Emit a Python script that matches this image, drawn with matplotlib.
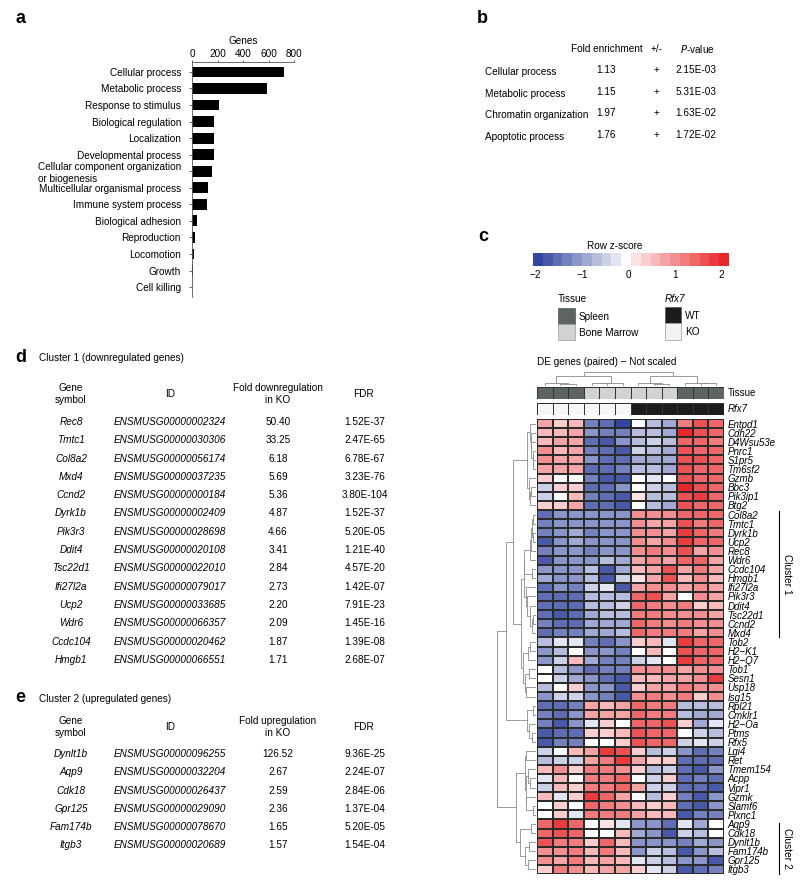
import numpy as np
import matplotlib
matplotlib.use("Agg")
import matplotlib.pyplot as plt
import matplotlib.cm as cm
from matplotlib.colors import ListedColormap, BoundaryNorm, to_rgb
from matplotlib.patches import Rectangle

plt.rcParams['font.family'] = ['Liberation Sans', 'DejaVu Sans']

# ---- data ----
go_terms = ["Cellular process", "Metabolic process", "Response to stimulus",
            "Biological regulation", "Localization", "Developmental process",
            "Cellular component organization\nor biogenesis",
            "Multicellular organismal process", "Immune system process",
            "Biological adhesion", "Reproduction", "Locomotion", "Growth",
            "Cell killing"]
go_counts = [724, 586, 208, 175, 169, 169, 159, 122, 120, 39, 26, 13, 5, 1]

enrich_terms = ["Cellular process", "Metabolic process",
                "Chromatin organization", "Apoptotic process"]
enrich_fold = ["1.13", "1.15", "1.97", "1.76"]
enrich_sign = ["+", "+", "+", "+"]
enrich_p = ["2.15E-03", "5.31E-03", "1.63E-02", "1.72E-02"]

genes = ["Entpd1", "Cdh22", "D4Wsu53e", "Pnrc1", "S1pr5", "Tm6sf2", "Gzmb",
         "Bbc3", "Pik3ip1", "Btg2", "Col8a2", "Tmtc1", "Dyrk1b", "Ucp2",
         "Rec8", "Wdr6", "Ccdc104", "Hmgb1", "Ifi27l2a", "Pik3r3", "Ddit4",
         "Tsc22d1", "Ccnd2", "Mxd4", "Tob2", "H2\u2212K1", "H2\u2212Q7", "Tob1",
         "Sesn1", "Usp18", "Isg15", "Rpl21", "Cmklr1", "H2\u2212Oa", "Ptms",
         "Rfx5", "Lgi4", "Ret", "Tmem154", "Acpp", "Vipr1", "Gzmk", "Slamf6",
         "Plxnc1", "Aqp9", "Cdk18", "Dynlt1b", "Fam174b", "Gpr125", "Itgb3"]

zscores = [
    [0.9, 0.4, 0.6, -1.3, -1.6, -1.9, 0.0, -0.7, -0.8, 1.3, 1.6, 1.5],
    [0.5, 0.6, 0.7, -1.2, -1.3, -1.3, -0.7, -0.7, -0.9, 2.0, 1.6, 1.4],
    [0.5, 0.7, 0.8, -1.5, -1.8, -1.2, -0.7, -0.5, -0.7, 1.5, 1.5, 1.3],
    [1.0, 0.5, 0.7, -1.3, -1.5, -1.7, -0.5, -0.7, -0.8, 1.6, 1.5, 1.4],
    [1.0, 0.9, 0.8, -1.2, -1.5, -1.6, -0.8, -0.8, -0.9, 1.6, 1.6, 1.4],
    [0.9, 0.8, 0.8, -1.5, -1.5, -1.4, -0.6, -0.7, -0.9, 1.7, 1.5, 1.4],
    [0.4, 0.0, 0.0, -1.3, -1.8, -1.7, 0.0, -0.3, 0.0, 1.6, 1.5, 1.4],
    [-0.4, 0.3, 0.3, -1.5, -1.6, -1.2, 0.0, -0.4, -0.6, 2.0, 1.6, 1.5],
    [-0.4, 0.0, 0.5, -1.3, -1.5, -1.7, 0.2, -0.6, -0.6, 1.6, 1.9, 1.5],
    [0.3, 0.3, 0.7, -1.6, -1.5, -1.7, 0.0, -0.6, -0.8, 1.6, 1.5, 1.4],
    [-1.6, -1.2, -1.1, -1.2, -1.1, -1.1, 1.0, 1.1, 1.0, 1.5, 1.4, 1.4],
    [-1.3, -1.2, -1.1, -1.2, -1.2, -1.1, 1.0, 0.7, 0.9, 1.6, 1.2, 1.4],
    [-1.4, -1.0, -0.8, -1.3, -1.1, -1.1, 1.1, 1.0, 0.8, 1.8, 1.5, 1.2],
    [-1.7, -1.0, -0.8, -1.2, -1.1, -1.0, 1.1, 0.8, 1.0, 1.9, 1.5, 1.4],
    [-1.4, -1.2, -1.2, -1.3, -1.1, -1.0, 1.0, 1.2, 1.0, 1.6, 0.9, 1.1],
    [-1.8, -1.1, -1.2, -1.1, -0.6, -0.8, 0.9, 1.1, 0.8, 1.4, 1.4, 0.8],
    [-1.0, -1.1, -1.1, -0.6, -1.8, -0.9, 0.6, 0.9, 1.6, 0.7, 1.2, 0.7],
    [-0.8, -1.0, -1.0, -0.6, -1.8, -0.5, 0.2, 0.9, 1.7, 0.5, 1.1, 0.6],
    [-1.5, -1.0, -1.4, -0.5, -0.3, -1.8, 0.7, 1.0, 1.0, 0.9, 1.0, 0.7],
    [-1.6, -1.5, -1.6, -0.6, -0.6, -0.6, 1.4, 1.6, 0.7, 0.0, 1.1, 0.8],
    [-1.5, -1.6, -1.5, -0.7, -0.6, -0.5, 1.5, 1.3, 1.1, 1.2, 0.3, 0.5],
    [-1.5, -1.8, -1.6, -0.8, -0.7, -0.7, 1.2, 1.2, 1.1, 1.1, 1.1, 0.9],
    [-1.3, -1.5, -1.6, -0.9, -0.8, -0.8, 1.4, 1.2, 1.1, 1.2, 1.1, 1.0],
    [-1.5, -1.3, -1.3, -0.9, -0.8, -0.7, 1.5, 1.2, 1.2, 1.3, 0.8, 1.0],
    [-0.6, -0.3, -0.3, -1.4, -1.6, -1.2, 0.4, 0.5, -0.3, 1.9, 1.5, 1.5],
    [-1.1, -0.6, 0.0, -1.0, -1.2, -1.4, 0.0, 0.5, 0.0, 1.7, 1.5, 1.4],
    [-1.0, -0.4, 0.5, -0.8, -1.4, -1.4, -0.4, -0.3, 0.0, 1.9, 1.5, 1.4],
    [0.0, -0.7, -1.1, -1.5, -1.4, -1.4, 1.0, 1.1, 1.0, 0.8, 1.1, 1.1],
    [0.0, -0.4, -0.8, -1.0, -1.5, -1.7, 0.6, 0.6, 0.8, 0.8, 1.0, 1.9],
    [-0.7, 0.0, 0.3, -1.1, -1.1, -1.8, 0.3, 0.7, 0.7, 1.2, 1.1, 1.0],
    [-1.2, -0.4, -0.4, -1.0, -1.4, -1.7, 1.1, 1.2, 1.1, 1.2, 0.3, 1.0],
    [-1.6, -1.5, -1.3, 0.9, 0.6, 0.8, 1.4, 1.2, 1.3, -0.7, -0.7, -0.7],
    [-1.3, -1.5, -1.2, 0.9, 0.9, 0.9, 1.4, 1.2, 1.3, -0.7, -0.9, -0.8],
    [-1.3, -1.7, -1.2, -0.3, 0.4, 0.0, 1.5, 1.4, 1.6, 0.3, -0.9, -0.3],
    [-1.7, -1.5, -1.5, 0.3, 0.4, 0.5, 1.6, 1.4, 1.4, 0.0, -0.5, -0.6],
    [-1.7, -1.4, -1.4, 0.0, 0.0, 0.3, 1.6, 1.5, 1.4, -0.4, -0.3, -0.5],
    [-0.4, 0.0, 0.5, 0.9, 1.8, 1.7, 0.3, -0.7, -0.5, -1.2, -1.6, -1.4],
    [-0.6, -0.4, -0.4, 0.7, 1.3, 1.8, 0.7, 0.3, 0.3, -1.5, -1.6, -1.5],
    [0.5, 1.1, 0.3, 1.3, 1.2, 1.1, 0.3, -0.6, -0.4, -1.6, -1.8, -1.1],
    [-0.3, 0.6, 0.0, 1.3, 1.2, 1.5, 0.0, -0.4, 0.3, -1.6, -1.4, -1.5],
    [-0.4, 0.6, 0.3, 1.2, 1.2, 1.5, 0.7, -0.4, -0.4, -1.6, -1.5, -1.7],
    [0.5, -0.3, 0.3, 1.9, 1.4, 0.7, 0.0, -0.6, 0.3, -1.4, -1.7, -1.0],
    [0.0, 0.3, 0.0, 1.4, 1.2, 1.1, 0.5, 0.4, 0.5, -1.6, -1.7, -1.2],
    [0.0, 0.3, -0.3, 1.3, 1.2, 1.2, 0.7, 0.6, 0.6, -1.7, -1.4, -1.3],
    [1.4, 1.9, 1.5, 0.0, 0.2, -0.3, -1.0, -1.2, -1.6, -0.3, -0.8, 0.0],
    [1.5, 1.7, 1.5, 0.0, 0.0, 0.5, -0.9, -1.1, -1.7, -0.4, -0.6, 0.0],
    [1.6, 1.2, 1.3, 0.3, 1.4, 0.6, -1.2, -1.2, -1.0, -1.3, -0.8, -1.2],
    [1.0, 1.1, 1.3, 0.6, 1.2, 0.6, -1.2, -0.5, -0.7, -1.7, -1.1, -0.7],
    [1.0, 0.7, 1.3, 0.6, 0.8, 0.6, -0.3, -0.4, -0.7, -1.1, -1.2, -1.8],
    [0.4, 1.3, 1.1, 0.5, 0.7, 0.8, 0.3, -0.3, -0.5, -1.7, -1.5, -1.3],
]

# 0 = Spleen, 1 = Bone Marrow ; 0 = WT, 1 = KO
tissue = [0, 0, 0, 1, 1, 1, 1, 1, 1, 0, 0, 0]
rfx7 = [1, 1, 1, 1, 1, 1, 0, 0, 0, 0, 0, 0]

c1_genes = ["Rec8", "Tmtc1", "Col8a2", "Mxd4", "Ccnd2", "Dyrk1b", "Pik3r3",
            "Ddit4", "Tsc22d1", "Ifi27l2a", "Ucp2", "Wdr6", "Ccdc104", "Hmgb1"]
c1_ids = ["ENSMUSG00000002324", "ENSMUSG00000030306", "ENSMUSG00000056174",
          "ENSMUSG00000037235", "ENSMUSG00000000184", "ENSMUSG00000002409",
          "ENSMUSG00000028698", "ENSMUSG00000020108", "ENSMUSG00000022010",
          "ENSMUSG00000079017", "ENSMUSG00000033685", "ENSMUSG00000066357",
          "ENSMUSG00000020462", "ENSMUSG00000066551"]
c1_fold = ["50.40", "33.25", "6.18", "5.69", "5.36", "4.87", "4.66", "3.41",
           "2.84", "2.73", "2.20", "2.09", "1.87", "1.71"]
c1_fdr = ["1.52E-37", "2.47E-65", "6.78E-67", "3.23E-76", "3.80E-104",
          "1.52E-37", "5.20E-05", "1.21E-40", "4.57E-20", "1.42E-07",
          "7.91E-23", "1.45E-16", "1.39E-08", "2.68E-07"]

c2_genes = ["Dynlt1b", "Aqp9", "Cdk18", "Gpr125", "Fam174b", "Itgb3"]
c2_ids = ["ENSMUSG00000096255", "ENSMUSG00000032204", "ENSMUSG00000026437",
          "ENSMUSG00000029090", "ENSMUSG00000078670", "ENSMUSG00000020689"]
c2_fold = ["126.52", "2.67", "2.59", "2.36", "1.65", "1.57"]
c2_fdr = ["9.36E-25", "2.24E-07", "2.84E-06", "1.37E-04", "5.20E-05", "1.54E-04"]

# ---- figure ----
W, H = 800, 886
fig = plt.figure(figsize=(W / 100, H / 100), dpi=100)


def box(x0, y0, x1, y1):
    return [x0 / W, 1 - y1 / H, (x1 - x0) / W, (y1 - y0) / H]


# overlay in pixel coordinates for texts and legend boxes
ov = fig.add_axes([0, 0, 1, 1])
ov.set_xlim(0, W)
ov.set_ylim(H, 0)
ov.axis("off")

FS = 7.2
for lbl, x, y in [("a", 15, 18), ("b", 477, 18), ("c", 478, 236),
                  ("d", 15, 357), ("e", 15, 698)]:
    ov.text(x, y, lbl, fontsize=13, fontweight="bold", ha="left", va="center")

# ---- panel a ----
ax = fig.add_axes(box(192, 62, 294, 297))
yy = np.arange(len(go_terms))
ax.barh(yy, go_counts, height=0.65, color="black")
ax.set_ylim(13.6, -0.6)
ax.set_xlim(0, 800)
ax.xaxis.tick_top()
ax.set_xticks([0, 200, 400, 600, 800])
ax.set_yticks(yy)
ax.set_yticklabels(go_terms)
ax.get_yticklabels()[6].set_multialignment("left")
for s in ["bottom", "right"]:
    ax.spines[s].set_visible(False)
for s in ["top", "left"]:
    ax.spines[s].set_linewidth(0.6)
    ax.spines[s].set_color("#555555")
ax.tick_params(axis="x", labelsize=FS, length=1.8, width=0.6, pad=0.5, color="#555555")
ax.tick_params(axis="y", labelsize=FS, length=2, width=0.6, pad=6, color="#555555")
ov.text(243, 41, "Genes", fontsize=FS, ha="center", va="center")

# ---- panel b ----
ov.text(607, 49, "Fold enrichment", fontsize=FS, ha="center", va="center")
ov.text(657, 49, "+/-", fontsize=FS, ha="center", va="center")
ov.text(697, 49, "$\\it{P}$-value", fontsize=FS, ha="center", va="center")
for i, term in enumerate(enrich_terms):
    y = 70 + i * 21.7
    ov.text(485, y + 2, term, fontsize=FS, ha="left", va="center")
    ov.text(606, y, enrich_fold[i], fontsize=FS, ha="center", va="center")
    ov.text(657, y, enrich_sign[i], fontsize=FS, ha="center", va="center")
    ov.text(696, y, enrich_p[i], fontsize=FS, ha="center", va="center")

# ---- panel c: colour scale ----
blue = np.array(to_rgb("#3245a0"))
red = np.array(to_rgb("#e8272b"))
white = np.ones(3)
blues = [tuple(blue + (white - blue) * t) for t in np.linspace(0, 0.86, 9)]
reds = [tuple(white + (red - white) * t) for t in np.linspace(0.13, 1, 10)]
cmap = ListedColormap(blues + [(1, 1, 1)] + reds)
norm = BoundaryNorm(np.linspace(-2.05, 2.17, 21), 20)

cax = fig.add_axes(box(533, 253, 729, 266))
cb = fig.colorbar(cm.ScalarMappable(norm=norm, cmap=cmap), cax=cax,
                  orientation="horizontal", spacing="proportional",
                  ticks=[-2, -1, 0, 1, 2])
cb.outline.set_visible(False)
cb.minorticks_off()
cb.ax.set_xticklabels(["\u22122", "\u22121", "0", "1", "2"])
cb.ax.tick_params(length=0, labelsize=FS, pad=3)
ov.text(615, 246, "Row z-score", fontsize=FS, ha="center", va="center")

# legends
ov.text(558, 299, "Tissue", fontsize=FS, ha="left", va="center")
ov.add_patch(Rectangle((558, 308), 17, 16, facecolor="#5d6464", edgecolor="#555555", lw=0.5))
ov.add_patch(Rectangle((558, 324), 17, 16, facecolor="#d2d4d4", edgecolor="#999999", lw=0.5))
ov.text(579, 317, "Spleen", fontsize=FS, ha="left", va="center")
ov.text(579, 333, "Bone Marrow", fontsize=FS, ha="left", va="center")
ov.text(665, 299, "Rfx7", fontsize=FS, style="italic", ha="left", va="center")
ov.add_patch(Rectangle((665, 307), 16, 16, facecolor="#1e1b1b", edgecolor="#555555", lw=0.5))
ov.add_patch(Rectangle((665, 323), 16, 17, facecolor="#f3f3f3", edgecolor="#999999", lw=0.5))
ov.text(685, 316, "WT", fontsize=FS, ha="left", va="center")
ov.text(685, 332, "KO", fontsize=FS, ha="left", va="center")

ov.text(537, 362, "DE genes (paired) \u2212 Not scaled", fontsize=FS, ha="left", va="center")

# ---- heatmap ----
Z = np.array(zscores)
n_rows, n_cols = Z.shape
axh = fig.add_axes(box(537, 419, 724, 874))
axh.pcolormesh(Z, cmap=cmap, norm=norm, edgecolors="#2b2b2b", linewidth=0.35)
axh.set_ylim(n_rows, 0)
axh.set_xlim(0, n_cols)
axh.yaxis.tick_right()
axh.set_yticks(np.arange(n_rows) + 0.5)
axh.set_yticklabels(genes, fontsize=7, style="italic")
axh.set_xticks([])
axh.tick_params(axis="y", length=0, pad=2.5)
for s in axh.spines.values():
    s.set_visible(False)

axt = fig.add_axes(box(537, 387, 724, 399))
axt.pcolormesh(np.array([tissue]), cmap=ListedColormap(["#5d6464", "#d2d4d4"]),
               vmin=0, vmax=1, edgecolors="#333333", linewidth=0.4)
axt.axis("off")
axr = fig.add_axes(box(537, 403, 724, 415))
axr.pcolormesh(np.array([rfx7]), cmap=ListedColormap(["#1e1b1b", "#f7f7f7"]),
               vmin=0, vmax=1, edgecolors="#333333", linewidth=0.4)
axr.axis("off")
ov.text(728, 393, "Tissue", fontsize=7, ha="left", va="center")
ov.text(728, 409, "Rfx7", fontsize=7, style="italic", ha="left", va="center")


# ---- dendrograms (order-preserving average linkage) ----
def adjacent_linkage(X):
    n = len(X)
    D = np.sqrt(((X[:, None, :] - X[None, :, :]) ** 2).sum(-1))
    groups = [[i] for i in range(n)]
    pos = [i + 0.5 for i in range(n)]
    hts = [0.0] * n
    links = []
    h = 0.0
    while len(groups) > 1:
        d = [D[np.ix_(groups[k], groups[k + 1])].mean() for k in range(len(groups) - 1)]
        k = int(np.argmin(d))
        h = max(d[k], hts[k], hts[k + 1])
        links.append((pos[k], pos[k + 1], hts[k], hts[k + 1], h))
        groups[k:k + 2] = [groups[k] + groups[k + 1]]
        pos[k:k + 2] = [(pos[k] + pos[k + 1]) / 2]
        hts[k:k + 2] = [h]
    return links, h


row_links, row_top = adjacent_linkage(Z)
axd = fig.add_axes(box(497, 419, 536, 874))
for pa, pb, ha, hb, h in row_links:
    axd.plot([ha, h, h, hb], [pa, pa, pb, pb], color="#8a8a8a", lw=0.6)
axd.set_ylim(n_rows, 0)
axd.set_xlim(row_top * 1.01, 0)
axd.axis("off")

col_links, col_top = adjacent_linkage(Z.T)
axc = fig.add_axes(box(537, 372, 724, 386))
for pa, pb, ha, hb, h in col_links:
    axc.plot([pa, pa, pb, pb], [ha, h, h, hb], color="#8a8a8a", lw=0.6)
axc.set_xlim(0, n_cols)
axc.set_ylim(0, col_top * 1.02)
axc.axis("off")

# cluster brackets
ov.plot([779, 779], [511, 637], color="black", lw=0.8)
ov.text(787, 574, "Cluster 1", fontsize=7.3, rotation=-90, ha="center", va="center")
ov.plot([779, 779], [823, 874], color="black", lw=0.8)
ov.text(787, 848, "Cluster 2", fontsize=7.3, rotation=-90, ha="center", va="center")


# ---- tables d and e ----
def draw_table(title, y_title, y_head, y_first, head3, syms, ids, folds, fdrs):
    ov.text(39, y_title, title, fontsize=FS, ha="left", va="center")
    ov.text(71, y_head, "Gene\nsymbol", fontsize=FS, ha="center", va="center", linespacing=1.25)
    ov.text(170, y_head, "ID", fontsize=FS, ha="center", va="center")
    ov.text(278, y_head, head3, fontsize=FS, ha="center", va="center", linespacing=1.25)
    ov.text(363, y_head, "FDR", fontsize=FS, ha="center", va="center")
    for i in range(len(syms)):
        y = y_first + i * 18.3
        ov.text(71, y, syms[i], fontsize=FS, style="italic", ha="center", va="center")
        ov.text(170, y, ids[i], fontsize=FS, style="italic", ha="center", va="center")
        ov.text(278, y, folds[i], fontsize=FS, ha="center", va="center")
        ov.text(365, y, fdrs[i], fontsize=FS, ha="center", va="center")


draw_table("Cluster 1 (downregulated genes)", 358, 394, 422,
           "Fold downregulation\nin KO", c1_genes, c1_ids, c1_fold, c1_fdr)
draw_table("Cluster 2 (upregulated genes)", 699, 727, 754,
           "Fold upregulation\nin KO", c2_genes, c2_ids, c2_fold, c2_fdr)

fig.savefig("out.png", dpi=100)
plt.close(fig)
